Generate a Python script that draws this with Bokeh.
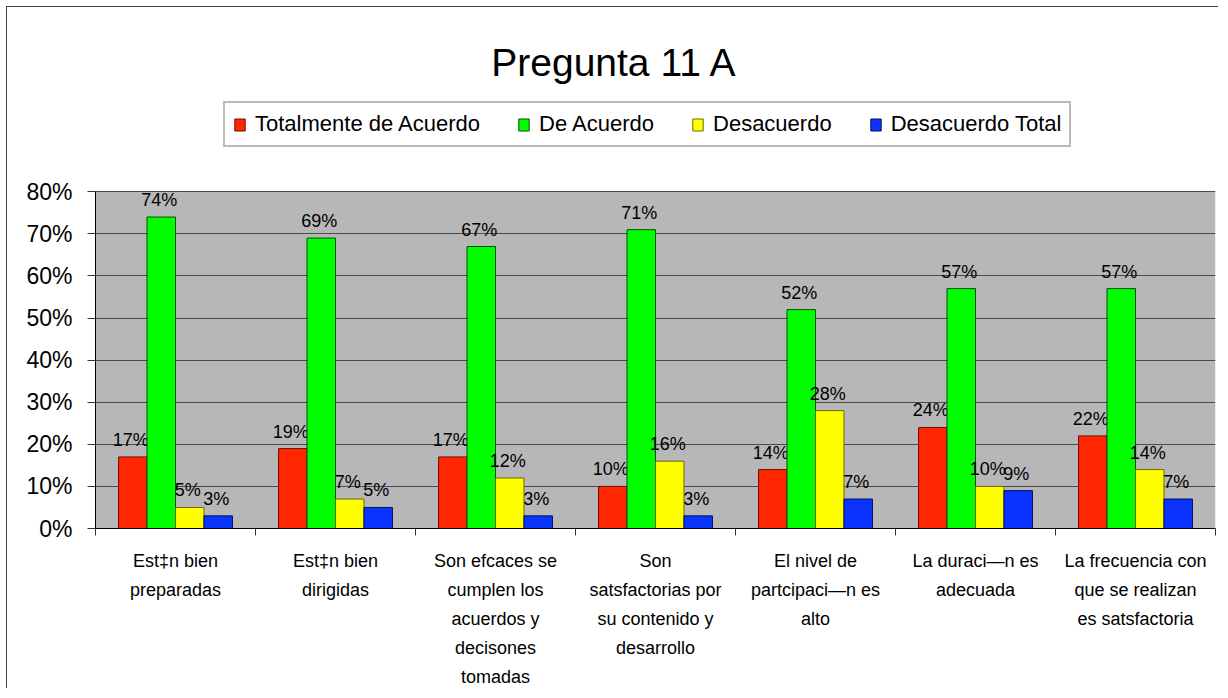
from bokeh.plotting import figure
from bokeh.models import (Range1d, FixedTicker, LinearAxis, PrintfTickFormatter,
                          Legend, LegendItem, Label, ColumnDataSource, BoxAnnotation)
from bokeh.core.properties import value
from bokeh.embed import file_html
from bokeh.resources import INLINE

FONT = "Liberation Sans"

title_text = "Pregunta 11 A"
categories = [
    "Est‡n bien\npreparadas",
    "Est‡n bien\ndirigidas",
    "Son efcaces se\ncumplen los\nacuerdos y\ndecisones\ntomadas",
    "Son\nsatsfactorias por\nsu contenido y\ndesarrollo",
    "El nivel de\npartcipaci—n es\nalto",
    "La duraci—n es\nadecuada",
    "La frecuencia con\nque se realizan\nes satsfactoria",
]
series_names = ["Totalmente de Acuerdo", "De Acuerdo", "Desacuerdo", "Desacuerdo Total"]
totalmente = [17, 19, 17, 10, 14, 24, 22]
de_acuerdo = [74, 69, 67, 71, 52, 57, 57]
desacuerdo = [5, 7, 12, 16, 28, 10, 14]
desacuerdo_total = [3, 5, 3, 3, 7, 9, 7]
y_ticks = [0, 10, 20, 30, 40, 50, 60, 70, 80]

series_values = [totalmente, de_acuerdo, desacuerdo, desacuerdo_total]
fill_colors = ["#ff2600", "#00ff00", "#ffff00", "#0a33ff"]
line_colors = ["#6a1000", "#005000", "#6a6a00", "#001060"]

n = len(categories)
# frame spans from canvas top (0) to the 0% line (523 px); 80% sits at 185 px
y_top = y_ticks[-1] * 523.0 / (523.0 - 185.0)
p = figure(width=1212, height=682, x_range=Range1d(0, n), y_range=Range1d(0, y_top),
           output_backend="svg", toolbar_location=None,
           min_border_left=88, min_border_right=4, min_border_top=0, min_border_bottom=159)
p.styles = {"margin-left": "6px", "margin-top": "6px",
            "border-left": "1px solid #404040", "border-top": "1px solid #404040"}
p.background_fill_color = "white"
p.border_fill_color = "white"
p.outline_line_color = None

# grey plot area (0 .. 80 %)
p.add_layout(BoxAnnotation(bottom=0, top=y_ticks[-1], fill_color="#b7b7b7", fill_alpha=1,
                           line_color=None, level="image"))

bar_w = 0.178
renderers = []
for j, (vals, fc, lc) in enumerate(zip(series_values, fill_colors, line_colors)):
    xs = [i + 0.5 + (j - 1.5) * bar_w for i in range(n)]
    src = ColumnDataSource(dict(x=xs, top=vals, lab=[f"{v}%" for v in vals]))
    r = p.vbar(x="x", top="top", width=bar_w, bottom=0, source=src,
               fill_color=fc, line_color=lc, line_width=1)
    renderers.append(r)
    p.text(x="x", y="top", text="lab", source=src, x_offset=-2, y_offset=-17,
           text_align="center", text_baseline="alphabetic",
           text_font=value(FONT), text_font_size="18px", text_color="black")

# y axis
ya = p.yaxis[0]
ya.ticker = FixedTicker(ticks=y_ticks)
ya.bounds = (y_ticks[0], y_ticks[-1])
ya.formatter = PrintfTickFormatter(format="%d%%")
ya.major_label_text_font = FONT
ya.major_label_text_font_size = "23px"
ya.major_label_text_color = "black"
ya.major_tick_out = 8
ya.major_tick_in = 0
ya.minor_tick_line_color = None
ya.axis_line_color = "black"
ya.major_tick_line_color = "#333333"
ya.major_label_standoff = 15

p.ygrid.ticker = FixedTicker(ticks=y_ticks)
p.ygrid.grid_line_color = "#4a4a4a"
p.ygrid.grid_line_width = 1
p.xgrid.grid_line_color = None

# x axis: ticks at category boundaries
xa = p.xaxis[0]
xa.ticker = FixedTicker(ticks=list(range(n + 1)))
xa.major_label_text_font_size = "1px"
xa.major_label_text_alpha = 0
xa.major_label_standoff = 0
xa.major_tick_out = 7
xa.major_tick_in = 0
xa.minor_tick_line_color = None
xa.axis_line_color = "black"
xa.major_tick_line_color = "#333333"

# category labels at centres
centers = [i + 0.5 for i in range(n)]
xa2 = LinearAxis(ticker=FixedTicker(ticks=centers),
                 major_label_overrides={c: lab for c, lab in zip(centers, categories)})
xa2.axis_line_color = None
xa2.major_tick_line_color = None
xa2.minor_tick_line_color = None
xa2.major_tick_out = 0
xa2.major_tick_in = 0
xa2.major_label_standoff = 15
xa2.major_label_text_font = FONT
xa2.major_label_text_font_size = "18px"
xa2.major_label_text_line_height = 1.45
xa2.major_label_text_color = "black"
p.add_layout(xa2, "below")

legend = Legend(items=[LegendItem(label=nm, renderers=[r]) for nm, r in zip(series_names, renderers)],
                location=(128, 381), orientation="horizontal")
legend.label_text_font = FONT
legend.label_text_font_size = "22px"
legend.label_text_color = "black"
legend.glyph_width = 13
legend.glyph_height = 15
legend.label_standoff = 9
legend.spacing = 37
legend.padding = 8
legend.margin = 0
legend.border_line_color = "#777777"
legend.border_line_width = 2
legend.background_fill_color = "white"
legend.background_fill_alpha = 1
p.add_layout(legend, "center")

title = Label(x=519, y=466, x_units="screen", y_units="screen", text=title_text,
              text_align="center", text_baseline="alphabetic",
              text_font=FONT, text_font_size="39px", text_color="black")
p.add_layout(title)

open("out.html", "w").write(file_html(p, INLINE))
